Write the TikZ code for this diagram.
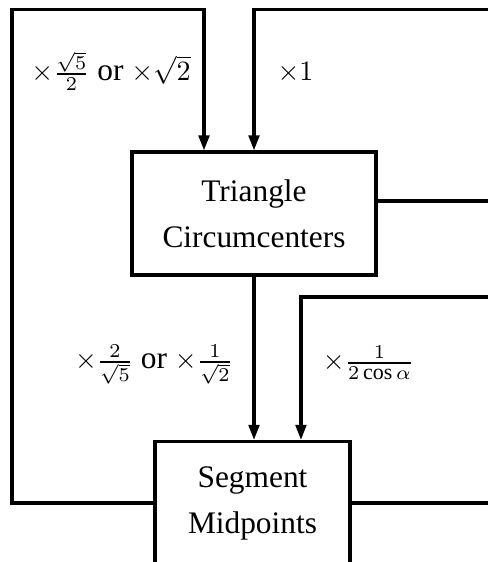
\documentclass[tikz,border=0pt]{standalone}
\usepackage{fontspec}
\setmainfont{Liberation Serif}[Scale=1.12]
\usetikzlibrary{arrows.meta}
\tikzset{
  stagebox/.style={draw, line width=1.1pt, align=center, inner sep=0pt,
    minimum height=43.9pt, font=\fontsize{10}{16.4}\selectfont},
  feed/.style={line width=1.1pt, -{Triangle[length=5.4pt,width=3.8pt]}},
  wire/.style={line width=1.1pt},
  factor/.style={inner sep=0pt, anchor=base},
}
\begin{document}
\begin{tikzpicture}[x=0.357pt, y=0.357pt]
\useasboundingbox (0,0) rectangle (488,562);
\clip (0,0) rectangle (488,562);
\node[stagebox, minimum width=87.1pt] (tri) at (254,348.5) {Triangle\\Circumcenters};
\node[stagebox, minimum width=69.6pt] (seg) at (252.5,59) {Segment\\Midpoints};
% free ends on the right margin
\coordinate (inA) at (495,552.5);
\coordinate (outA) at (495,361);
\coordinate (inB) at (495,265);
\coordinate (outB) at (495,59);
\coordinate (loopL) at (12,552.5);
% connectors
\draw[feed] (seg.west) -| (loopL) -| ([xshift=-17.85pt]tri.north);
\draw[feed] (inA) -| (tri.north);
\draw[wire] (tri.east |- outA) -- (outA);
\draw[feed] (tri.south) -- (tri.south |- seg.north);
\draw[feed] (inB) -| ([xshift=17.3pt]seg.north);
\draw[wire] (seg.east) -- (outB);
% factors
\node[factor] (kA) at (111,481) {$\times\frac{\sqrt5}{2}$ or $\times\sqrt2$};
\node[factor, anchor=base west] (kB) at (277,481) {$\times1$};
\node[factor] (kC) at (154,193) {$\times\frac{2}{\sqrt5}$ or $\times\frac{1}{\sqrt2}$};
\node[factor] (kD) at (368.5,192) {$\times\frac{1}{2\cos\alpha}$};
\end{tikzpicture}
\end{document}
